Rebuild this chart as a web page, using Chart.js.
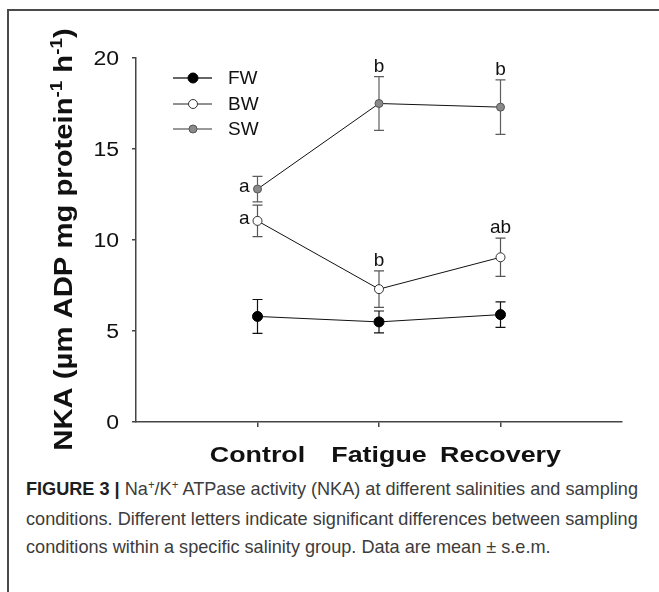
<!DOCTYPE html>
<html>
<head>
<meta charset="utf-8">
<script src="https://cdn.jsdelivr.net/npm/chart.js@4/dist/chart.umd.min.js"></script>
<style>
  body { margin: 0; background: #fff; width: 659px; height: 592px; overflow: hidden; position: relative; font-family: "Liberation Sans", Arial, sans-serif; }
  #frame { position: absolute; left: 7px; top: 9px; width: 700px; height: 700px; border-top: 2px solid #4a4a4a; border-left: 2px solid #4a4a4a; }
  #chart { position: absolute; left: 0; top: 0; }
  .cap { position: absolute; left: 26px; font-size: 19px; line-height: 24px; color: #3c3c3c; white-space: nowrap; transform-origin: 0 50%; }
  .cap b { color: #1e1e1e; }
  .cap sup { font-size: 12px; line-height: 0; vertical-align: 6px; }
</style>
</head>
<body>
<div id="frame"></div>
<canvas id="chart" width="659" height="470"></canvas>
<div class="cap" id="cap1" style="top:477px"><b>FIGURE 3 |</b> Na<sup>+</sup>/K<sup>+</sup> ATPase activity (NKA) at different salinities and sampling</div>
<div class="cap" style="top:507px">conditions. Different letters indicate significant differences between sampling</div>
<div class="cap" style="top:535px">conditions within a specific salinity group. Data are mean &plusmn; s.e.m.</div>
<script>
const categories = ['Control', 'Fatigue', 'Recovery'];
const seriesNames = ['FW', 'BW', 'SW'];
const fwMean = [5.8, 5.5, 5.9];
const fwSem = [0.93, 0.6, 0.7];
const bwMean = [11.05, 7.3, 9.05];
const bwSem = [0.87, 1.0, 1.05];
const swMean = [12.8, 17.5, 17.3];
const swSem = [0.7, 1.48, 1.5];
const fwLetters = ['', '', ''];
const bwLetters = ['a', 'b', 'ab'];
const swLetters = ['a', 'b', 'b'];

const means = [fwMean, bwMean, swMean];
const sems = [fwSem, bwSem, swSem];
const letters = [fwLetters, bwLetters, swLetters];

const fills = ['#000000', '#ffffff', '#8a8a8a'];
const edges = ['#000000', '#333333', '#555555'];
const radii = [5, 4.5, 4];
const errColors = ['#111111', '#555555', '#5e5e5e'];

function stretchText(ctx, text, x, y, sx, align) {
  ctx.save();
  ctx.translate(x, y);
  ctx.scale(sx, 1);
  ctx.textAlign = align;
  ctx.fillText(text, 0, 0);
  ctx.restore();
}

const errorBars = {
  id: 'errorBars',
  beforeDatasetsDraw(chart) {
    const { ctx, scales: { x, y } } = chart;
    ctx.save();
    ctx.lineWidth = 1.2;
    means.forEach((m, i) => {
      ctx.strokeStyle = errColors[i];
      m.forEach((v, j) => {
        const px = x.getPixelForValue(j + 1);
        const top = y.getPixelForValue(v + sems[i][j]);
        const bot = y.getPixelForValue(v - sems[i][j]);
        ctx.beginPath();
        ctx.moveTo(px, top); ctx.lineTo(px, bot);
        ctx.moveTo(px - 5, top); ctx.lineTo(px + 5, top);
        ctx.moveTo(px - 5, bot); ctx.lineTo(px + 5, bot);
        ctx.stroke();
      });
    });
    ctx.restore();
  }
};

const decorations = {
  id: 'decorations',
  afterDraw(chart) {
    const { ctx, scales: { x, y } } = chart;
    ctx.save();
    ctx.fillStyle = '#111';

    // significance letters
    ctx.font = '19px "Liberation Sans", Arial, sans-serif';
    letters.forEach((ls, i) => {
      ls.forEach((t, j) => {
        if (!t) return;
        const px = x.getPixelForValue(j + 1);
        if (j === 0) {
          ctx.textAlign = 'right';
          ctx.textBaseline = 'middle';
          ctx.fillText(t, px - 8, y.getPixelForValue(means[i][j]) - 2);
        } else {
          ctx.textAlign = 'center';
          ctx.textBaseline = 'alphabetic';
          ctx.fillText(t, px, y.getPixelForValue(means[i][j] + sems[i][j]) - 5);
        }
      });
    });

    // y tick labels
    ctx.font = '20px "Liberation Sans", Arial, sans-serif';
    ctx.textBaseline = 'middle';
    y.ticks.forEach(t => stretchText(ctx, String(t.value), 119, y.getPixelForValue(t.value) + 1, 1.15, 'right'));

    // x category labels
    ctx.font = 'bold 22px "Liberation Sans", Arial, sans-serif';
    ctx.textBaseline = 'alphabetic';
    categories.forEach((c, j) => stretchText(ctx, c, x.getPixelForValue(j + 1), 462, 1.22, 'center'));

    // y axis title with superscripts
    const segs = [
      { text: 'NKA (\u00b5m ADP mg protein', font: 'bold 25px "Liberation Sans", Arial, sans-serif', dy: 0 },
      { text: '-1', font: 'bold 16px "Liberation Sans", Arial, sans-serif', dy: -10 },
      { text: ' h', font: 'bold 25px "Liberation Sans", Arial, sans-serif', dy: 0 },
      { text: '-1', font: 'bold 16px "Liberation Sans", Arial, sans-serif', dy: -10 },
      { text: ')', font: 'bold 25px "Liberation Sans", Arial, sans-serif', dy: 0 }
    ];
    ctx.save();
    ctx.translate(72, 239.5);
    ctx.rotate(-Math.PI / 2);
    ctx.scale(1.17, 1);
    ctx.textAlign = 'left';
    ctx.textBaseline = 'alphabetic';
    let total = 0;
    segs.forEach(s => { ctx.font = s.font; s.w = ctx.measureText(s.text).width; total += s.w; });
    let cx = -total / 2;
    segs.forEach(s => { ctx.font = s.font; ctx.fillText(s.text, cx, s.dy); cx += s.w; });
    ctx.restore();

    // legend
    const legendY = [78, 104, 129];
    const legendLine = ['#666', '#222', '#777'];
    const legendLW = [2, 1, 1.5];
    ctx.font = '19px "Liberation Sans", Arial, sans-serif';
    ctx.textAlign = 'left';
    ctx.textBaseline = 'middle';
    seriesNames.forEach((n, i) => {
      const ly = legendY[i];
      ctx.strokeStyle = legendLine[i];
      ctx.lineWidth = legendLW[i];
      ctx.beginPath(); ctx.moveTo(173, ly); ctx.lineTo(212, ly); ctx.stroke();
      ctx.beginPath(); ctx.arc(193, ly, radii[i], 0, Math.PI * 2);
      ctx.fillStyle = fills[i]; ctx.fill();
      ctx.strokeStyle = edges[i]; ctx.lineWidth = 1; ctx.stroke();
      ctx.fillStyle = '#111';
      ctx.fillText(n, 228, ly + 1);
    });
    ctx.restore();
  }
};

const datasets = means.map((m, i) => ({
  label: seriesNames[i],
  data: m.map((v, j) => ({ x: j + 1, y: v })),
  borderColor: '#111',
  borderWidth: 1,
  pointRadius: radii[i],
  pointBackgroundColor: fills[i],
  pointBorderColor: edges[i],
  pointBorderWidth: 1,
  tension: 0
}));

new Chart(document.getElementById('chart'), {
  type: 'line',
  data: { datasets },
  options: {
    responsive: false,
    animation: false,
    devicePixelRatio: 1,
    layout: { padding: { left: 0, top: 58, right: 37, bottom: 0 } },
    plugins: { legend: { display: false }, tooltip: { enabled: false } },
    scales: {
      x: {
        type: 'linear',
        min: 0,
        max: 4,
        afterBuildTicks: s => { s.ticks = categories.map((c, j) => ({ value: j + 1 })); },
        ticks: { display: false },
        grid: { drawOnChartArea: false, drawTicks: true, tickLength: 5, color: '#444', lineWidth: 1.5 },
        border: { display: true, color: '#444', width: 1.5 },
        afterFit: s => { s.height = 48; }
      },
      y: {
        min: 0,
        max: 20,
        ticks: { display: false, stepSize: 5 },
        grid: { drawOnChartArea: false, drawTicks: true, tickLength: 4, color: '#444', lineWidth: 1.5 },
        border: { display: true, color: '#444', width: 1.5 },
        afterFit: s => { s.width = 136; }
      }
    }
  },
  plugins: [errorBars, decorations]
});

// the caption font is condensed: squeeze every line by the factor that fits line 1
const capScale = 612 / document.getElementById('cap1').getBoundingClientRect().width;
document.querySelectorAll('.cap').forEach(el => {
  el.style.transform = 'scaleX(' + capScale + ')';
});
</script>
</body>
</html>
